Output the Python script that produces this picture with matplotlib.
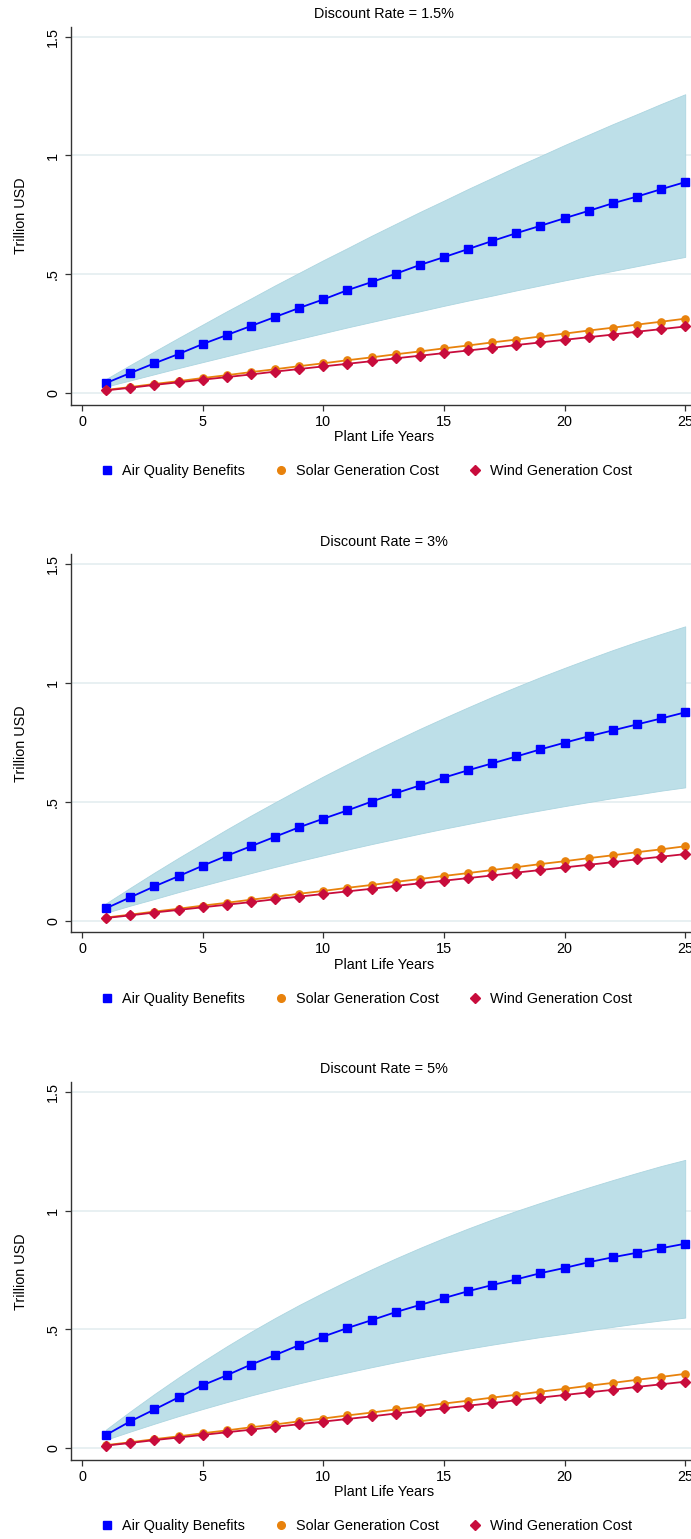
import matplotlib
matplotlib.use("Agg")
import matplotlib.pyplot as plt
from matplotlib.lines import Line2D

plt.rcParams['font.family'] = ['Liberation Sans', 'DejaVu Sans']

# plant life years
years = list(range(1, 26))

# generation costs (same in every panel), trillion USD
solar_cost = [0.013, 0.025, 0.038, 0.050, 0.063, 0.075, 0.088, 0.100, 0.113, 0.125,
              0.138, 0.150, 0.163, 0.175, 0.188, 0.200, 0.213, 0.225, 0.238, 0.250,
              0.263, 0.275, 0.288, 0.300, 0.313]
wind_cost = [0.011, 0.022, 0.034, 0.045, 0.056, 0.067, 0.078, 0.090, 0.101, 0.112,
             0.123, 0.134, 0.146, 0.157, 0.168, 0.179, 0.190, 0.202, 0.213, 0.224,
             0.235, 0.246, 0.258, 0.269, 0.280]

# air quality benefits, discount rate 1.5%
aq_15 = [0.042, 0.084, 0.125, 0.164, 0.206, 0.244, 0.282, 0.320, 0.358, 0.394,
         0.433, 0.467, 0.502, 0.539, 0.572, 0.606, 0.640, 0.673, 0.704, 0.736,
         0.767, 0.799, 0.827, 0.858, 0.888]
aq_15_hi = [0.059, 0.118, 0.175, 0.232, 0.288, 0.344, 0.398, 0.453, 0.506, 0.559,
            0.610, 0.662, 0.712, 0.762, 0.810, 0.859, 0.906, 0.953, 0.998, 1.044,
            1.088, 1.132, 1.174, 1.217, 1.258]
aq_15_lo = [0.027, 0.053, 0.079, 0.105, 0.130, 0.155, 0.180, 0.204, 0.228, 0.252,
            0.276, 0.299, 0.322, 0.344, 0.367, 0.389, 0.410, 0.432, 0.453, 0.474,
            0.494, 0.514, 0.534, 0.554, 0.573]

# discount rate 3%
aq_3 = [0.052, 0.098, 0.144, 0.187, 0.231, 0.273, 0.313, 0.353, 0.393, 0.429,
        0.464, 0.501, 0.536, 0.569, 0.602, 0.633, 0.662, 0.691, 0.721, 0.749,
        0.776, 0.801, 0.826, 0.851, 0.877]
aq_3_hi = [0.073, 0.138, 0.202, 0.264, 0.324, 0.384, 0.442, 0.498, 0.553, 0.607,
           0.659, 0.710, 0.759, 0.807, 0.853, 0.898, 0.942, 0.984, 1.025, 1.064,
           1.102, 1.139, 1.174, 1.207, 1.239]
aq_3_lo = [0.033, 0.063, 0.091, 0.120, 0.147, 0.174, 0.200, 0.226, 0.251, 0.275,
           0.299, 0.322, 0.344, 0.366, 0.387, 0.407, 0.427, 0.446, 0.464, 0.482,
           0.499, 0.516, 0.531, 0.547, 0.561]

# discount rate 5%
aq_5 = [0.056, 0.113, 0.163, 0.214, 0.265, 0.307, 0.352, 0.392, 0.434, 0.470,
        0.506, 0.539, 0.573, 0.603, 0.632, 0.661, 0.687, 0.711, 0.737, 0.759,
        0.783, 0.804, 0.823, 0.842, 0.861]
aq_5_hi = [0.079, 0.155, 0.228, 0.298, 0.365, 0.429, 0.490, 0.548, 0.603, 0.655,
           0.705, 0.753, 0.799, 0.843, 0.885, 0.925, 0.963, 0.999, 1.033, 1.066,
           1.098, 1.129, 1.159, 1.188, 1.214]
aq_5_lo = [0.036, 0.070, 0.103, 0.135, 0.165, 0.194, 0.222, 0.248, 0.273, 0.297,
           0.319, 0.341, 0.362, 0.382, 0.401, 0.419, 0.436, 0.452, 0.468, 0.482,
           0.497, 0.511, 0.525, 0.538, 0.550]

titles = ["Discount Rate = 1.5%", "Discount Rate = 3%", "Discount Rate = 5%"]
panels = [(aq_15, aq_15_lo, aq_15_hi), (aq_3, aq_3_lo, aq_3_hi), (aq_5, aq_5_lo, aq_5_hi)]

y_ticks = [0, 0.5, 1, 1.5]
y_ticklabels = ["0", ".5", "1", "1.5"]
x_ticks = [0, 5, 10, 15, 20, 25]

BLUE = '#0000ff'
ORANGE = '#e8820c'
RED = '#c80c3c'
BAND = '#bddfe8'
GRID = '#e8f0f2'
FS = 10.4

W, H = 691, 1539
fig = plt.figure(figsize=(W / 100, H / 100), dpi=100)

ymin, ymax = -0.049, 1.542
xmin, xmax = -0.456, 25.6
px_per_y = 237.5
left_px, right_px = 71, 699.7

for i, (title, (aq, lo, hi)) in enumerate(zip(titles, panels)):
    zero_px = 393 + 527.6 * i
    top_px = zero_px - ymax * px_per_y
    bot_px = zero_px - ymin * px_per_y
    ax = fig.add_axes([left_px / W, 1 - bot_px / H,
                       (right_px - left_px) / W, (bot_px - top_px) / H])

    ax.fill_between(years, lo, hi, facecolor=BAND, edgecolor='#acd5e0', lw=0.6, zorder=1)
    ax.plot(years, aq, color=BLUE, lw=1.3, marker='s', ms=5.8, zorder=3)
    ax.plot(years, solar_cost, color=ORANGE, lw=1.3, marker='o', ms=5.2, zorder=4)
    ax.plot(years, wind_cost, color=RED, lw=1.3, marker='D', ms=5.0, zorder=5)

    ax.set_xlim(xmin, xmax)
    ax.set_ylim(ymin, ymax)
    ax.set_xticks(x_ticks)
    ax.set_yticks(y_ticks)
    ax.set_yticklabels(y_ticklabels, rotation=90, va='center')
    ax.grid(axis='y', color=GRID, lw=1.4)
    ax.set_axisbelow(True)
    for s in ['top', 'right']:
        ax.spines[s].set_visible(False)
    for s in ['left', 'bottom']:
        ax.spines[s].set_color('#333333')
        ax.spines[s].set_linewidth(1.0)
    ax.tick_params(length=4.3, width=0.9, color='#333333', labelsize=FS, pad=3)
    ax.tick_params(axis='y', pad=3.5)

    fig.text(384 / W, 1 - (zero_px - 379) / H, title, ha='center', va='center', fontsize=FS)
    fig.text(384 / W, 1 - (zero_px + 44) / H, "Plant Life Years", ha='center', va='center', fontsize=FS)
    fig.text(21 / W, 1 - (zero_px - 177) / H, "Trillion USD", ha='center', va='center',
             rotation=90, fontsize=FS)

    handles = [
        Line2D([], [], ls='none', marker='s', color=BLUE, ms=6),
        Line2D([], [], ls='none', marker='o', color=ORANGE, ms=5.5),
        Line2D([], [], ls='none', marker='D', color=RED, ms=5.5),
    ]
    labels = ["Air Quality Benefits", "Solar Generation Cost", "Wind Generation Cost"]
    fig.legend(handles, labels, loc='center', bbox_to_anchor=(366 / W, 1 - (zero_px + 78) / H),
               ncol=3, frameon=False, fontsize=FS, handlelength=1.0, handletextpad=0.55,
               columnspacing=2.0)

fig.savefig("out.png", dpi=100)
